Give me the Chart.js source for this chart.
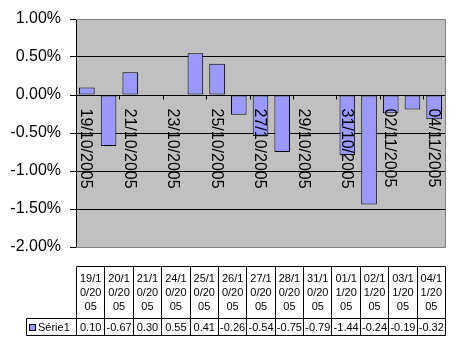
<!DOCTYPE html>
<html>
<head>
<meta charset="utf-8">
<script src="https://cdn.jsdelivr.net/npm/chart.js@4/dist/chart.umd.min.js"></script>
<style>
  body { margin: 0; background: #fff; }
  canvas { display: block; }
</style>
</head>
<body>
<canvas id="my_chart" width="470" height="352"></canvas>
<script>
// every calendar day on the date axis
const axis_days = ['19/10/2005', '20/10/2005', '21/10/2005', '22/10/2005', '23/10/2005',
    '24/10/2005', '25/10/2005', '26/10/2005', '27/10/2005', '28/10/2005', '29/10/2005',
    '30/10/2005', '31/10/2005', '01/11/2005', '02/11/2005', '03/11/2005', '04/11/2005'];
// the days that have a value (data table columns)
const table_dates = ['19/10/2005', '20/10/2005', '21/10/2005', '24/10/2005', '25/10/2005',
    '26/10/2005', '27/10/2005', '28/10/2005', '31/10/2005', '01/11/2005', '02/11/2005',
    '03/11/2005', '04/11/2005'];
const serie1 = [0.10, -0.67, 0.30, 0.55, 0.41, -0.26, -0.54, -0.75, -0.79, -1.44, -0.24, -0.19, -0.32];
const series_name = 'Série1';
const y_ticks = [1.0, 0.5, 0.0, -0.5, -1.0, -1.5, -2.0];

const bar_color = '#9999FF';

const axis_data = axis_days.map(d => {
    const i = table_dates.indexOf(d);
    return i >= 0 ? serie1[i] : null;
});

const excel_plugin = {
    id: 'excel_look',
    beforeDraw(chart) {
        const { ctx, chartArea: a } = chart;
        ctx.save();
        ctx.fillStyle = '#C0C0C0';
        ctx.fillRect(a.left, a.top, a.right - a.left, a.bottom - a.top);
        ctx.restore();
    },
    afterDatasetsDraw(chart) {
        const { ctx, chartArea: a } = chart;
        const x = chart.scales.x;
        const y = chart.scales.y;
        const y0 = Math.round(y.getPixelForValue(0)) + 0.5;
        const cat_w = x.getPixelForValue(1) - x.getPixelForValue(0);

        ctx.save();
        // tick marks on the category axis
        ctx.strokeStyle = '#000';
        ctx.lineWidth = 1;
        for (let k = 2; k < axis_days.length; k += 2) {
            const px = Math.round(x.getPixelForValue(k) - cat_w / 2) + 0.5;
            ctx.beginPath();
            ctx.moveTo(px, y0);
            ctx.lineTo(px, y0 + 4);
            ctx.stroke();
        }
        // rotated date labels
        ctx.fillStyle = '#000';
        ctx.font = '16px Arial, "Liberation Sans", sans-serif';
        ctx.textAlign = 'left';
        ctx.textBaseline = 'middle';
        for (let i = 0; i < axis_days.length; i += 2) {
            ctx.save();
            ctx.translate(x.getPixelForValue(i) - 1, y0 + 13);
            ctx.rotate(Math.PI / 2);
            ctx.fillText(axis_days[i], 0, 0);
            ctx.restore();
        }
        // plot border
        ctx.strokeStyle = '#808080';
        ctx.beginPath();
        ctx.moveTo(a.left, Math.round(a.top) + 0.5);
        ctx.lineTo(Math.round(a.right) + 0.5, Math.round(a.top) + 0.5);
        ctx.lineTo(Math.round(a.right) + 0.5, Math.round(a.bottom) + 0.5);
        ctx.lineTo(a.left, Math.round(a.bottom) + 0.5);
        ctx.stroke();
        ctx.restore();
    },
    afterDraw(chart) {
        const { ctx, chartArea: a } = chart;
        const left = Math.round(a.left) + 0.5;
        const right = Math.round(a.right) + 0.5;
        const top = 266.5, mid = 318.5, bottom = 335.5, key_left = 26.5;
        const col_w = (right - left) / table_dates.length;

        ctx.save();
        ctx.strokeStyle = '#000';
        ctx.lineWidth = 1;
        ctx.beginPath();
        ctx.moveTo(left, top); ctx.lineTo(right, top);
        ctx.moveTo(key_left, mid); ctx.lineTo(right, mid);
        ctx.moveTo(key_left, bottom); ctx.lineTo(right, bottom);
        ctx.moveTo(key_left, mid); ctx.lineTo(key_left, bottom);
        for (let c = 0; c <= table_dates.length; c++) {
            const px = Math.round(left + c * col_w - 0.5) + 0.5;
            ctx.moveTo(px, top);
            ctx.lineTo(px, bottom);
        }
        ctx.stroke();

        ctx.fillStyle = '#000';
        ctx.font = '11px Arial, "Liberation Sans", sans-serif';
        ctx.textAlign = 'center';
        ctx.textBaseline = 'middle';
        table_dates.forEach((d, c) => {
            const cx = left + (c + 0.5) * col_w;
            const parts = [d.slice(0, 4), d.slice(4, 8), d.slice(8)];
            parts.forEach((p, r) => ctx.fillText(p, cx, 279 + r * 14));
            ctx.fillText(serie1[c].toFixed(2), cx, 327.5);
        });

        // legend key
        ctx.fillStyle = bar_color;
        ctx.fillRect(29.5, 324.5, 6, 6);
        ctx.strokeRect(29.5, 324.5, 6, 6);
        ctx.fillStyle = '#000';
        ctx.textAlign = 'left';
        ctx.fillText(series_name, 38, 327.5);
        ctx.restore();
    }
};

const canvas = document.getElementById('my_chart');

let chart = new Chart(canvas, {
    type: 'bar',
    data: {
        labels: axis_days,
        datasets: [{
            label: series_name,
            data: axis_data,
            backgroundColor: bar_color,
            borderColor: '#000',
            borderWidth: 1,
            borderSkipped: false,
            barPercentage: 0.72,
            categoryPercentage: 1.0
        }]
    },
    options: {
        responsive: false,
        animation: false,
        events: [],
        layout: {
            padding: { top: 19, right: 25, bottom: 105, left: 0 }
        },
        plugins: {
            legend: { display: false },
            tooltip: { enabled: false }
        },
        scales: {
            x: {
                display: false
            },
            y: {
                min: -2,
                max: 1,
                afterFit: (scale) => { scale.width = 76; },
                afterBuildTicks: (scale) => {
                    scale.ticks = y_ticks.map(v => ({ value: v }));
                },
                grid: {
                    color: '#000',
                    lineWidth: 1,
                    drawTicks: true,
                    tickLength: 6
                },
                border: { color: '#000' },
                ticks: {
                    padding: 9,
                    color: '#000',
                    font: { family: 'Arial, "Liberation Sans", sans-serif', size: 16 },
                    callback: (v) => v.toFixed(2) + '%'
                }
            }
        }
    },
    plugins: [excel_plugin]
});
</script>
</body>
</html>
